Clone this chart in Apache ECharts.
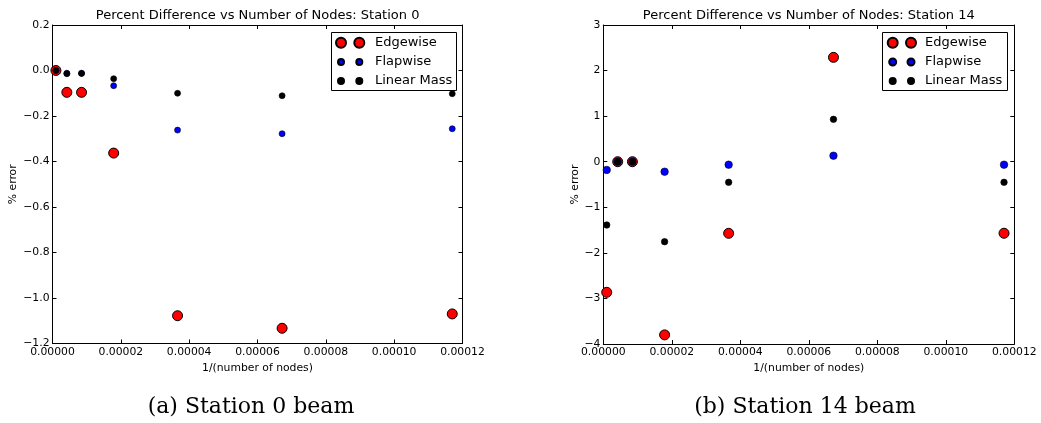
<!DOCTYPE html>
<html>
<head>
<meta charset="utf-8">
<script src="https://cdn.jsdelivr.net/npm/echarts@6/dist/echarts.min.js"></script>
<style>
  html, body { margin: 0; padding: 0; background: #ffffff; }
  #chart { width: 1041px; height: 423px; }
</style>
</head>
<body>
<div id="chart"></div>
<script>
// 1/(number of nodes) for each mesh refinement level
const inverseNodes = [1.0e-6, 4.2e-6, 8.5e-6, 1.79e-5, 3.66e-5, 6.72e-5, 1.17e-4];

// Station 0 beam: percent error per property
const station0Edgewise   = [0.0, -0.096, -0.096, -0.363, -1.078, -1.133, -1.070];
const station0Flapwise   = [0.0, -0.012, -0.012, -0.067, -0.262, -0.278, -0.256];
const station0LinearMass = [0.0, -0.014, -0.013, -0.036, -0.100, -0.111, -0.102];

// Station 14 beam: percent error per property
const station14Edgewise   = [-2.866, 0.0, 0.0, -3.80, -1.571, 2.29, -1.57];
const station14Flapwise   = [-0.18, 0.0, 0.0, -0.219, -0.065, 0.132, -0.065];
const station14LinearMass = [-1.389, 0.0, 0.0, -1.755, -0.452, 0.93, -0.452];

const seriesNames = ['Edgewise', 'Flapwise', 'Linear Mass'];
const plotTitles = [
  'Percent Difference vs Number of Nodes: Station 0',
  'Percent Difference vs Number of Nodes: Station 14'
];
const captions = ['(a) Station 0 beam', '(b) Station 14 beam'];
const xAxisName = '1/(number of nodes)';
const yAxisName = '% error';

const SANS = 'DejaVu Sans';
const MINUS = '\u2212';
const fmt = (v, d) => v.toFixed(d).replace('-', MINUS);

const pairs = (ys) => inverseNodes.map((x, i) => [x, ys[i]]);

const grids = [
  { left: 52.5, top: 25, width: 410, height: 318.5 },
  { left: 603.3, top: 25, width: 411, height: 319 }
];

const axisLineStyle = { show: true, onZero: false, lineStyle: { color: '#000', width: 1 } };
const tickStyle = { show: true, inside: true, length: 4, lineStyle: { color: '#000', width: 1 } };
const labelFont = { fontFamily: SANS, fontSize: 10.8, color: '#000' };

function xAxes(gridIndex) {
  const base = { type: 'value', gridIndex, min: 0, max: 0.00012, interval: 0.00002,
    axisLine: axisLineStyle, axisTick: tickStyle, splitLine: { show: false } };
  return [
    Object.assign({}, base, {
      position: 'bottom',
      axisLabel: Object.assign({ margin: 3, showMinLabel: true, showMaxLabel: true,
        formatter: v => fmt(v, 5) }, labelFont),
      name: xAxisName, nameLocation: 'middle', nameGap: 15,
      nameTextStyle: labelFont
    }),
    Object.assign({}, base, { position: 'top', axisLabel: { show: false } })
  ];
}

function yAxes(gridIndex, min, max, interval, decimals, nameGap, margin) {
  const base = { type: 'value', gridIndex, min, max, interval,
    axisLine: axisLineStyle, axisTick: tickStyle, splitLine: { show: false } };
  return [
    Object.assign({}, base, {
      position: 'left',
      axisLabel: Object.assign({ margin, showMinLabel: true, showMaxLabel: true,
        formatter: v => fmt(v, decimals) }, labelFont),
      name: yAxisName, nameLocation: 'middle', nameGap, nameRotate: 90,
      nameTextStyle: labelFont
    }),
    Object.assign({}, base, { position: 'right', axisLabel: { show: false } })
  ];
}

function scatter(name, data, xi, yi, color, size, bw) {
  return {
    type: 'scatter', name, data, xAxisIndex: xi, yAxisIndex: yi,
    symbol: 'circle', symbolSize: size,
    itemStyle: { color, borderColor: '#000', borderWidth: bw, opacity: 1 },
    emphasis: { disabled: true }
  };
}

// Two-marker legend icons
function pairIcon(r) {
  const d = 18.3;
  const w = d + 2 * r;
  const c = (cx) => `M${cx - r},${r}A${r},${r},0,1,1,${cx + r},${r}A${r},${r},0,1,1,${cx - r},${r}Z`;
  return { icon: 'path://' + c(r) + c(r + d), w, h: 2 * r };
}

function legendItem(name, centerX, centerY, r, textX) {
  const p = pairIcon(r);
  const left = centerX - r;
  return {
    data: [name], left, top: centerY - 6.5, padding: 0, selectedMode: false,
    icon: p.icon, itemWidth: p.w, itemHeight: p.h,
    textStyle: { fontFamily: SANS, fontSize: 13, color: '#000',
      padding: [0, 0, 0, textX - (left + p.w + 5)] }
  };
}

const chart = echarts.init(document.getElementById('chart'), null, { renderer: 'canvas' });

chart.setOption({
  animation: false,
  backgroundColor: '#ffffff',
  title: [
    { text: plotTitles[0], left: 257.6, top: 9, textAlign: 'center', padding: 0,
      textStyle: { fontFamily: SANS, fontSize: 13, fontWeight: 'normal', color: '#000' } },
    { text: plotTitles[1], left: 808.8, top: 9, textAlign: 'center', padding: 0,
      textStyle: { fontFamily: SANS, fontSize: 13, fontWeight: 'normal', color: '#000' } },
    { text: captions[0], left: 251, top: 396, textAlign: 'center', padding: 0,
      textStyle: { fontFamily: 'DejaVu Serif', fontSize: 22, fontWeight: 'normal', color: '#000' } },
    { text: captions[1], left: 805, top: 396, textAlign: 'center', padding: 0,
      textStyle: { fontFamily: 'DejaVu Serif', fontSize: 22, fontWeight: 'normal', color: '#000' } }
  ],
  grid: grids,
  xAxis: xAxes(0).concat(xAxes(1)),
  yAxis: yAxes(0, -1.2, 0.2, 0.2, 1, 34, 3).concat(yAxes(1, -4, 3, 1, 0, 21, 3)),
  legend: [
    legendItem(seriesNames[0], 340, 42.7, 5, 374),
    legendItem(seriesNames[1], 340, 62, 3, 374),
    legendItem(seriesNames[2], 340, 81, 3, 374),
    legendItem(seriesNames[0], 891.7, 42.7, 5, 924),
    legendItem(seriesNames[1], 891.7, 62, 3.5, 924),
    legendItem(seriesNames[2], 891.7, 81, 3, 924)
  ],
  graphic: [
    { type: 'rect', z: 3, shape: { x: 331.5, y: 32.5, width: 125, height: 58 },
      style: { fill: '#fff', stroke: '#000', lineWidth: 1 } },
    { type: 'rect', z: 3, shape: { x: 882.5, y: 32.5, width: 125, height: 58 },
      style: { fill: '#fff', stroke: '#000', lineWidth: 1 } }
  ],
  series: [
    scatter(seriesNames[0], pairs(station0Edgewise), 0, 0, '#ff0000', 10, 1),
    scatter(seriesNames[1], pairs(station0Flapwise), 0, 0, '#0000ff', 6, 0.6),
    scatter(seriesNames[2], pairs(station0LinearMass), 0, 0, '#000000', 6, 0.6),
    scatter(seriesNames[0], pairs(station14Edgewise), 2, 2, '#ff0000', 10, 1),
    scatter(seriesNames[1], pairs(station14Flapwise), 2, 2, '#0000ff', 7.5, 0.6),
    scatter(seriesNames[2], pairs(station14LinearMass), 2, 2, '#000000', 6.5, 0.6)
  ]
});
</script>
</body>
</html>
